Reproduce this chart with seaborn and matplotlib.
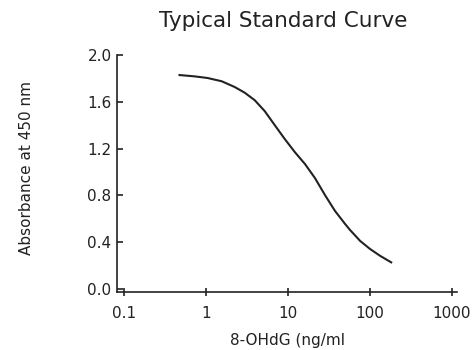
import matplotlib
matplotlib.use("Agg")
import matplotlib.pyplot as plt
import matplotlib.ticker as mticker
import seaborn as sns
import pandas as pd

# Data
conc = [0.46, 0.72, 1.04, 1.55, 2.23, 2.96, 3.92, 5.20, 6.89, 9.14, 12.1, 16.1,
        21.3, 28.2, 37.4, 49.6, 57.1, 75.7, 100.0, 133.0, 186.0]
absorb = [1.829, 1.817, 1.803, 1.775, 1.726, 1.677, 1.613, 1.519, 1.399, 1.280, 1.169, 1.067,
          0.947, 0.802, 0.666, 0.555, 0.503, 0.410, 0.341, 0.282, 0.222]
x_ticks = [0.1, 1, 10, 100, 1000]
x_tick_labels = ["0.1", "1", "10", "100", "1000"]
y_ticks = [0.0, 0.4, 0.8, 1.2, 1.6, 2.0]
y_tick_labels = ["0.0", "0.4", "0.8", "1.2", "1.6", "2.0"]

df = pd.DataFrame({"conc": conc, "absorb": absorb})

sns.set_theme(style="ticks")
plt.rcParams["font.family"] = ["DejaVu Sans"]
txt = "#222222"

fig = plt.figure(figsize=(4.76, 3.5), dpi=100)
ax = fig.add_axes([0.246, 0.166, 0.714, 0.677])

sns.lineplot(data=df, x="conc", y="absorb", ax=ax, color="#222222", linewidth=1.5,
             solid_joinstyle="round", solid_capstyle="butt")

ax.set_xscale("log")
ax.set_xlim(0.082, 1150)
ax.set_ylim(-0.026, 2.0)
ax.set_xticks(x_ticks)
ax.set_xticklabels(x_tick_labels)
ax.xaxis.set_minor_locator(mticker.NullLocator())
ax.set_yticks(y_ticks)
ax.set_yticklabels(y_tick_labels)

ax.tick_params(axis="x", direction="inout", length=6, width=1.2, colors=txt, labelsize=11, pad=7)
ax.tick_params(axis="y", direction="in", length=4, width=1.2, colors=txt, labelsize=11, pad=4)

for s in ["top", "right"]:
    ax.spines[s].set_visible(False)
for s in ["left", "bottom"]:
    ax.spines[s].set_linewidth(1.2)
    ax.spines[s].set_color(txt)

ax.set_xlabel("8-OHdG (ng/ml", fontsize=11, color=txt, va="top")
ax.xaxis.set_label_coords(0.5, -0.172)
ax.set_ylabel("Absorbance at 450 nm", fontsize=11, color=txt, va="center")
ax.yaxis.set_label_coords(-0.268, 0.525)
fig.text(0.595, 0.939, "Typical Standard Curve", ha="center", va="center", fontsize=15.5, color=txt)

fig.savefig("out.png", dpi=100, facecolor="white")
